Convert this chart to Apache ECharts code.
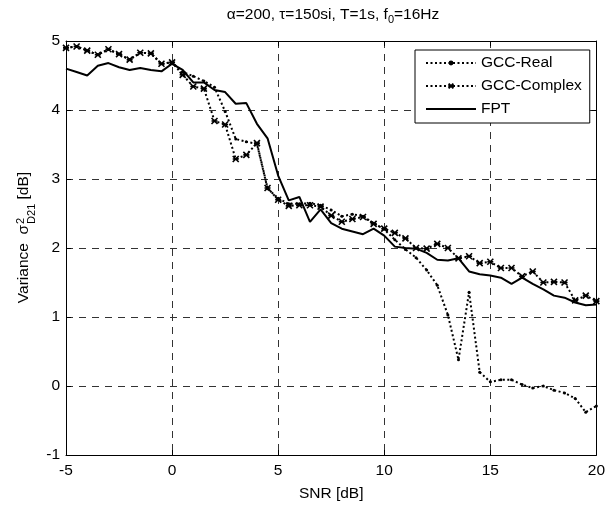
<!DOCTYPE html>
<html>
<head>
<meta charset="utf-8">
<script src="https://cdn.jsdelivr.net/npm/echarts@6/dist/echarts.min.js"></script>
<style>
html,body{margin:0;padding:0;background:#fff;}
#chart{width:608px;height:507px;}
</style>
</head>
<body>
<div id="chart"></div>
<script>
// ---- data ----
const snr = [-5,-4.5,-4,-3.5,-3,-2.5,-2,-1.5,-1,-0.5,0,0.5,1,1.5,2,2.5,3,3.5,4,4.5,5,5.5,6,6.5,7,7.5,8,8.5,9,9.5,10,10.5,11,11.5,12,12.5,13,13.5,14,14.5,15,15.5,16,16.5,17,17.5,18,18.5,19,19.5,20];
const gccReal = [4.90,4.92,4.86,4.80,4.88,4.81,4.73,4.83,4.82,4.67,4.69,4.55,4.49,4.42,4.33,3.98,3.58,3.54,3.51,2.86,2.72,2.64,2.64,2.65,2.62,2.55,2.46,2.49,2.46,2.36,2.27,2.12,1.98,1.86,1.68,1.46,1.03,0.38,1.36,0.20,0.06,0.09,0.09,0.02,-0.03,0.00,-0.06,-0.10,-0.18,-0.38,-0.29];
const gccComplex = [4.90,4.92,4.86,4.80,4.88,4.81,4.73,4.83,4.82,4.67,4.69,4.51,4.34,4.31,3.84,3.79,3.29,3.35,3.52,2.87,2.70,2.61,2.62,2.62,2.60,2.47,2.38,2.42,2.45,2.35,2.28,2.22,2.14,2.00,1.99,2.06,2.00,1.85,1.88,1.78,1.80,1.71,1.71,1.59,1.66,1.50,1.51,1.50,1.24,1.31,1.23];
const fpt = [4.60,4.55,4.50,4.64,4.68,4.62,4.58,4.61,4.58,4.56,4.67,4.58,4.40,4.40,4.29,4.26,4.09,4.10,3.80,3.59,3.05,2.69,2.74,2.38,2.56,2.36,2.28,2.24,2.20,2.28,2.18,2.02,2.00,1.99,1.93,1.83,1.82,1.85,1.66,1.62,1.60,1.57,1.48,1.57,1.48,1.40,1.31,1.28,1.21,1.17,1.18];
const seriesNames = ['GCC-Real','GCC-Complex','FPT'];
const xTicks = {min:-5, max:20, interval:5};
const yTicks = {min:-1, max:5, interval:1};
const titleMain = 'α=200, τ=150si, T=1s, f';
const titleSub = '0';
const titleEnd = '=16Hz';
const xName = 'SNR [dB]';
const yNameA = 'Variance  σ';
const yNameSup = '2';
const yNameSub = 'D21';
const yNameB = ' [dB]';

// ---- layout ----
const FF = '"Liberation Sans", Arial, Helvetica, sans-serif';
const FS = 15.5;
const SFS = 11;
const ctx = document.createElement('canvas').getContext('2d');
function tw(t, fs){ ctx.font = fs + 'px ' + FF; return ctx.measureText(t).width; }

const pair = (xs, ys) => xs.map((x,i)=>[x, ys[i]]);

const chart = echarts.init(document.getElementById('chart'), null, {renderer:'canvas'});

const w1 = tw(titleMain, FS), w2 = tw(titleSub, SFS), w3 = tw(titleEnd, FS);
const tStart = 333 - (w1+w2+w3)/2;
const tY = 15;
const a1 = tw(yNameA, FS), a2 = Math.max(tw(yNameSup, SFS), tw(yNameSub, SFS)), a3 = tw(yNameB, FS);
const yTot = a1 + a2 + a3;
const y0 = -yTot/2;

const axisCommon = {
  type:'value',
  axisLine:{show:true, onZero:false, lineStyle:{color:'#000', width:1}},
  axisTick:{show:true, inside:true, length:5, lineStyle:{color:'#000'}},
  axisLabel:{color:'#000', fontSize:FS, fontFamily:FF},
};
const gridLine = {show:true, lineStyle:{color:'#333', width:1, type:[7,6]}};

const xMark = 'path://M0,0L10,10M10,0L0,10M0,5L10,5';

const option = {
  animation:false,
  backgroundColor:'#fff',
  grid:{left:66, right:7, top:41, bottom:46, containLabel:false},
  xAxis:[
    Object.assign({}, axisCommon, {min:xTicks.min, max:xTicks.max, interval:xTicks.interval, position:'bottom',
      axisLabel:Object.assign({}, axisCommon.axisLabel, {margin:8, showMaxLabel:true, showMinLabel:true}),
      splitLine:gridLine,
      name:xName, nameLocation:'middle', nameGap:31, nameTextStyle:{color:'#000', fontSize:FS, fontFamily:FF}}),
    Object.assign({}, axisCommon, {min:xTicks.min, max:xTicks.max, interval:xTicks.interval, position:'top',
      axisLabel:{show:false}, splitLine:{show:false}})
  ],
  yAxis:[
    Object.assign({}, axisCommon, {min:yTicks.min, max:yTicks.max, interval:yTicks.interval, position:'left',
      axisLabel:Object.assign({}, axisCommon.axisLabel, {margin:6}), splitLine:gridLine}),
    Object.assign({}, axisCommon, {min:yTicks.min, max:yTicks.max, interval:yTicks.interval, position:'right',
      axisLabel:{show:false}, splitLine:{show:false}})
  ],
  legend:{
    orient:'vertical', left:415, top:50,
    itemWidth:50, itemHeight:6, itemGap:7,
    padding:[5,8,6,10],
    backgroundColor:'#fff', borderColor:'#000', borderWidth:1,
    textStyle:{color:'#000', fontSize:FS, fontFamily:FF},
    data:[
      {name:seriesNames[0]},
      {name:seriesNames[1]},
      {name:seriesNames[2], itemStyle:{opacity:0}}
    ]
  },
  series:[
    {name:seriesNames[0], type:'line', data:pair(snr, gccReal), z:3,
     symbol:'circle', symbolSize:3, showSymbol:true,
     itemStyle:{color:'#000'},
     lineStyle:{color:'#000', width:2, type:[2,2.5]}},
    {name:seriesNames[1], type:'line', data:pair(snr, gccComplex), z:4,
     symbol:xMark, symbolSize:6, showSymbol:true,
     itemStyle:{color:'none', borderColor:'#000', borderWidth:1.6},
     lineStyle:{color:'#000', width:2, type:[2,2.5]}},
    {name:seriesNames[2], type:'line', data:pair(snr, fpt), z:5,
     symbol:'none', showSymbol:false,
     itemStyle:{color:'#000'},
     lineStyle:{color:'#000', width:2, type:'solid'}}
  ],
  graphic:[
    {type:'text', x:tStart, y:tY, style:{text:titleMain, fill:'#000', font:FS+'px '+FF, textVerticalAlign:'middle', textAlign:'left'}},
    {type:'text', x:tStart+w1, y:tY+5, style:{text:titleSub, fill:'#000', font:SFS+'px '+FF, textVerticalAlign:'middle', textAlign:'left'}},
    {type:'text', x:tStart+w1+w2, y:tY, style:{text:titleEnd, fill:'#000', font:FS+'px '+FF, textVerticalAlign:'middle', textAlign:'left'}},
    {type:'group', x:24, y:238, rotation:Math.PI/2, children:[
      {type:'text', x:y0, y:0, style:{text:yNameA, fill:'#000', font:FS+'px '+FF, textVerticalAlign:'middle', textAlign:'left'}},
      {type:'text', x:y0+a1+1, y:-3, style:{text:yNameSup, fill:'#000', font:SFS+'px '+FF, textVerticalAlign:'middle', textAlign:'left'}},
      {type:'text', x:y0+a1+1, y:8, style:{text:yNameSub, fill:'#000', font:SFS+'px '+FF, textVerticalAlign:'middle', textAlign:'left'}},
      {type:'text', x:y0+a1+a2+1, y:0, style:{text:yNameB, fill:'#000', font:FS+'px '+FF, textVerticalAlign:'middle', textAlign:'left'}}
    ]}
  ]
};
chart.setOption(option);
</script>
</body>
</html>
